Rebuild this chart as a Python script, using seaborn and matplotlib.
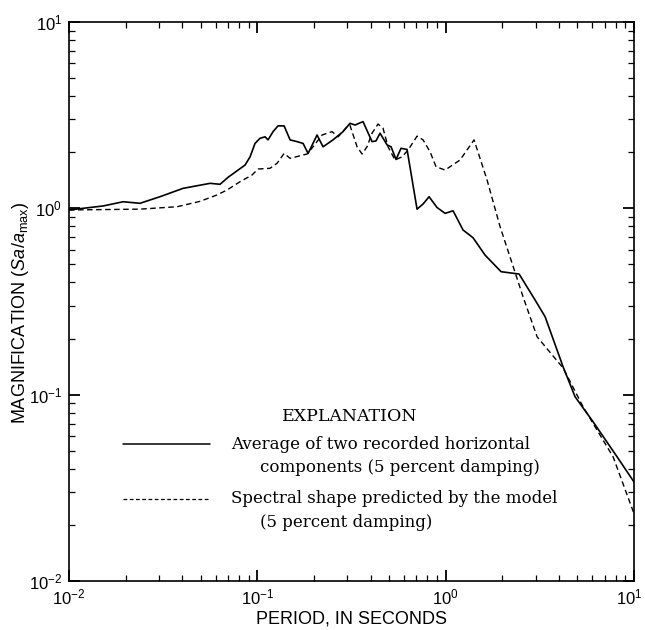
import matplotlib
matplotlib.use("Agg")
import matplotlib.pyplot as plt
import matplotlib.transforms as mtransforms
import seaborn as sns
import numpy as np

# period (s) and magnification
rec_period = [0.010, 0.0152, 0.0194, 0.0238, 0.0304, 0.0403, 0.0561, 0.0634, 0.0699, 0.0861,
              0.0915, 0.0972, 0.1033, 0.1099, 0.114, 0.1212, 0.1288, 0.1387, 0.1493, 0.1626,
              0.175, 0.186, 0.2075, 0.2233, 0.2523, 0.2851, 0.3105, 0.3303, 0.3641, 0.4064,
              0.4266, 0.4483, 0.4885, 0.5129, 0.545, 0.5795, 0.6237, 0.7047, 0.7586, 0.8165,
              0.90, 0.993, 1.095, 1.237, 1.398, 1.619, 1.969, 2.454, 2.985, 3.373,
              4.203, 4.867, 6.066, 8.13, 10.0]
rec_mag = [0.98, 1.03, 1.085, 1.064, 1.154, 1.28, 1.362, 1.346, 1.467, 1.708,
           1.89, 2.23, 2.376, 2.42, 2.33, 2.58, 2.77, 2.77, 2.33, 2.28,
           2.23, 1.97, 2.475, 2.14, 2.33, 2.58, 2.86, 2.80, 2.92, 2.28,
           2.30, 2.53, 2.19, 2.14, 1.83, 2.10, 2.07, 0.99, 1.055, 1.154,
           1.01, 0.94, 0.97, 0.765, 0.695, 0.561, 0.457, 0.444, 0.322, 0.262,
           0.141, 0.0974, 0.0715, 0.0464, 0.034]

mod_period = [0.010, 0.0238, 0.0375, 0.0496, 0.0611, 0.069, 0.0809, 0.0937, 0.1009, 0.1168,
              0.1272, 0.1387, 0.1493, 0.1836, 0.1977, 0.2207, 0.2493, 0.2684, 0.2995, 0.31,
              0.3385, 0.3597, 0.3824, 0.4064, 0.4375, 0.465, 0.4943, 0.5384, 0.5868, 0.6316,
              0.7047, 0.7586, 0.8265, 0.889, 0.993, 1.192, 1.415, 1.659, 1.945, 2.253,
              2.576, 3.058, 4.203, 5.367, 7.745, 10.0]
mod_mag = [0.98, 0.99, 1.02, 1.09, 1.18, 1.254, 1.389, 1.509, 1.625, 1.64,
           1.744, 1.97, 1.855, 1.957, 2.14, 2.475, 2.58, 2.42, 2.74, 2.80,
           2.14, 1.957, 2.14, 2.53, 2.835, 2.69, 2.14, 1.817, 1.89, 2.055,
           2.44, 2.33, 2.01, 1.672, 1.605, 1.817, 2.33, 1.419, 0.797, 0.507,
           0.335, 0.2045, 0.139, 0.0861, 0.0464, 0.023]

x_ticks = [1e-2, 1e-1, 1e0, 1e1]
x_ticklabels = [r"$10^{-2}$", r"$10^{-1}$", r"$10^{0}$", r"$10^{1}$"]
y_ticks = [1e-2, 1e-1, 1e0, 1e1]
y_ticklabels = [r"$10^{-2}$", r"$10^{-1}$", r"$10^{0}$", r"$10^{1}$"]

legend_title = "EXPLANATION"
legend_rec = ["Average of two recorded horizontal", "components (5 percent damping)"]
legend_mod = ["Spectral shape predicted by the model", "(5 percent damping)"]

sns.set_style("ticks")
plt.rcParams["font.family"] = ["Liberation Sans", "DejaVu Sans"]
plt.rcParams["mathtext.fontset"] = "custom"
plt.rcParams["mathtext.rm"] = "Liberation Sans"
plt.rcParams["mathtext.it"] = "Liberation Sans:italic"
plt.rcParams["mathtext.default"] = "rm"
for key in ["text.color", "axes.labelcolor", "xtick.color", "ytick.color", "axes.edgecolor"]:
    plt.rcParams[key] = "black"

fig = plt.figure(figsize=(6.45, 6.30), dpi=100)
ax = fig.add_axes([69 / 645, 1 - 581 / 630, 565 / 645, 559 / 630])

sns.lineplot(x=rec_period, y=rec_mag, ax=ax, color="black", linewidth=1.2,
             estimator=None, sort=False)
sns.lineplot(x=mod_period, y=mod_mag, ax=ax, color="black", linewidth=1.0,
             estimator=None, sort=False, dashes=False, linestyle=(0, (4, 2.5)))

ax.set(xscale="log", yscale="log")
ax.set_xlim(1e-2, 1e1)
ax.set_ylim(1e-2, 1e1)
ax.set_xticks(x_ticks)
ax.set_xticklabels(x_ticklabels)
ax.set_yticks(y_ticks)
ax.set_yticklabels(y_ticklabels)

for s in ax.spines.values():
    s.set_visible(True)
    s.set_linewidth(1.2)
    s.set_color("black")

ax.tick_params(which="both", direction="in", top=True, right=True, colors="black")
ax.tick_params(which="major", length=8, width=1.3, labelsize=12, pad=5)
ax.tick_params(which="minor", length=4, width=0.9)

# keep the last x label inside the figure
last = ax.get_xticklabels()[-1]
last.set_transform(last.get_transform() +
                   mtransforms.ScaledTranslation(-0.05, 0, fig.dpi_scale_trans))

ax.set_xlabel("PERIOD, IN SECONDS", fontsize=13, labelpad=2)
ax.set_ylabel(r"MAGNIFICATION ($\mathit{Sa/a}_{\mathrm{max}}$)", fontsize=13)
ax.yaxis.set_label_coords(-0.068, 0.48)

# explanation block
serif = ["DejaVu Serif"]
tr = ax.transAxes
ax.text(0.497, 0.295, legend_title, transform=tr, ha="center", va="center",
        fontsize=12.5, family=serif)
ax.plot([0.0956, 0.2496], [0.245, 0.245], transform=tr, color="black", lw=1.1)
ax.text(0.287, 0.245, legend_rec[0], transform=tr, ha="left", va="center",
        fontsize=12, family=serif)
ax.text(0.338, 0.203, legend_rec[1], transform=tr, ha="left", va="center",
        fontsize=12, family=serif)
ax.plot([0.0956, 0.2496], [0.1467, 0.1467], transform=tr, color="black", lw=0.9,
        linestyle=(0, (3, 2)))
ax.text(0.287, 0.1467, legend_mod[0], transform=tr, ha="left", va="center",
        fontsize=12, family=serif)
ax.text(0.338, 0.1055, legend_mod[1], transform=tr, ha="left", va="center",
        fontsize=12, family=serif)

fig.savefig("out.png", dpi=100)
